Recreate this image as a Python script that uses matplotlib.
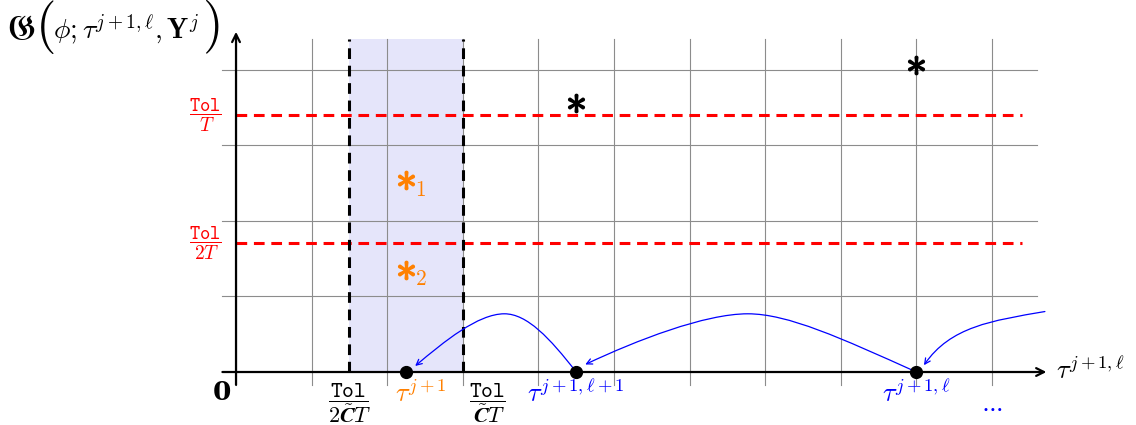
import matplotlib
matplotlib.use("Agg")
import matplotlib.pyplot as plt
from matplotlib.path import Path
from matplotlib.patches import FancyArrowPatch, Rectangle

plt.rcParams["mathtext.fontset"] = "cm"
plt.rcParams["font.family"] = "serif"
plt.rcParams["font.serif"] = ["DejaVu Serif"]

# ---- data ----
grid_x = [0, 1, 2, 3, 4, 5, 6, 7, 8, 9, 10]
grid_y = [1, 2, 3, 4]
tol_levels = [3.4, 1.7]
tol_labels = [r"$\dfrac{\mathtt{Tol}}{T}$", r"$\dfrac{\mathtt{Tol}}{2T}$"]
band = [1.5, 3.0]
band_labels = [r"$\dfrac{\mathtt{Tol}}{\mathbf{2}\tilde{\mathbfit{C}}T}$",
               r"$\dfrac{\mathtt{Tol}}{\tilde{\mathbfit{C}}T}$"]
pts_x = [2.25, 4.5, 9.0]
pts_labels = [r"$\tau^{j+1}$", r"$\tau^{j+1,\ell+1}$", r"$\tau^{j+1,\ell}$"]
pts_colors = ["#ff8000", "#0000ff", "#0000ff"]
stars_black_x = [4.5, 9.0]
stars_black_y = [3.56, 4.06]
stars_orange_x = [2.25, 2.25]
stars_orange_y = [2.54, 1.35]
stars_orange_sub = ["1", "2"]
# arcs: start, ctrl1, ctrl2, peak, ctrl3, ctrl4, end
arcs = [
    [(4.5, 0.0), (4.15, 0.45), (3.85, 0.77), (3.55, 0.77), (3.2, 0.77), (2.75, 0.4), (2.37, 0.08)],
    [(9.0, 0.0), (8.0, 0.45), (7.3, 0.77), (6.77, 0.77), (6.2, 0.77), (5.3, 0.42), (4.62, 0.1)],
]
arc_tail = [(10.7, 0.8), (10.0, 0.68), (9.45, 0.6), (9.1, 0.09)]

ORANGE = "#ff8000"
BLUE = "#0000ff"
RED = "#ff0000"

fig = plt.figure(figsize=(11.36, 4.25), dpi=100)
ax = fig.add_axes([0, 0, 1, 1])
ax.set_xlim(-3.122, 11.905)
ax.set_ylim(-0.701, 4.921)
ax.axis("off")

# band
ax.add_patch(Rectangle((band[0], 0), band[1] - band[0], 4.4, facecolor="#e5e5fa",
                       edgecolor="none", zorder=0))
# grid
for gx in grid_x:
    ax.plot([gx, gx], [-0.17, 4.4], color="#8c8c8c", lw=0.8, zorder=1)
for gy in grid_y:
    ax.plot([-0.18, 10.6], [gy, gy], color="#8c8c8c", lw=0.8, zorder=1)

# axes
ax.annotate("", xy=(10.72, 0), xytext=(-0.18, 0),
            arrowprops=dict(arrowstyle="->", lw=1.6, color="black", shrinkA=0, shrinkB=0,
                            mutation_scale=14), zorder=3)
ax.annotate("", xy=(0, 4.5), xytext=(0, -0.17),
            arrowprops=dict(arrowstyle="->", lw=1.6, color="black", shrinkA=0, shrinkB=0,
                            mutation_scale=14), zorder=3)

# tol lines
for lv, lb in zip(tol_levels, tol_labels):
    ax.plot([0, 10.4], [lv, lv], color=RED, lw=2.2, linestyle=(0, (3.5, 2.2)), zorder=2)
    ax.text(-0.41, lv, lb, color=RED, fontsize=14, ha="center", va="center")

# band dashed lines
band_label_x = [1.5, 3.33]
for bx, bl, lx in zip(band, band_labels, band_label_x):
    ax.plot([bx, bx], [0, 4.4], color="black", lw=2.2, linestyle=(0, (3.5, 2.2)), zorder=2)
    ax.text(lx, -0.12, bl, color="black", fontsize=16, ha="center", va="top")

# points
ax.plot(pts_x, [0] * len(pts_x), "o", color="black", markersize=8.5, zorder=5)
label_dx = [0.2, 0.0, 0.0]
for x, lb, c, dx in zip(pts_x, pts_labels, pts_colors, label_dx):
    ax.text(x + dx, -0.1, lb, color=c, fontsize=19, ha="center", va="top")
ax.text(10.0, -0.48, r"$\cdots$", color=BLUE, fontsize=17, ha="center", va="center")

# stars
ax.plot(stars_black_x, stars_black_y, linestyle="none", marker=r"$\ast$", markersize=13,
        color="black", markeredgewidth=1.2, zorder=5)
ax.plot(stars_orange_x, stars_orange_y, linestyle="none", marker=r"$\ast$", markersize=13,
        color=ORANGE, markeredgewidth=1.2, zorder=5)
for sx, sy, sub in zip(stars_orange_x, stars_orange_y, stars_orange_sub):
    ax.text(sx + 0.1, sy - 0.04, r"$_{%s}$" % sub, color=ORANGE, fontsize=22,
            ha="left", va="center")

# arcs
for a in arcs:
    codes = [Path.MOVETO] + [Path.CURVE4] * (len(a) - 1)
    p = FancyArrowPatch(path=Path(a, codes), arrowstyle="->", color=BLUE, lw=0.9,
                        mutation_scale=10, zorder=4)
    ax.add_patch(p)
p = FancyArrowPatch(path=Path(arc_tail, [Path.MOVETO, Path.CURVE4, Path.CURVE4, Path.CURVE4]),
                    arrowstyle="->", color=BLUE, lw=0.9, mutation_scale=10, zorder=4)
ax.add_patch(p)

# axis labels
ax.text(-0.18, -0.27, "0", fontsize=19, ha="center", va="center", fontweight="bold",
        family="DejaVu Serif")
ax.text(10.85, 0.02, r"$\tau^{j+1,\ell}$", fontsize=19, ha="left", va="center")
# y-axis label: G ( phi; tau, Y )
ylab_y = 4.53
ax.text(-3.03, ylab_y, r"$\mathfrak{G}$", fontsize=25, ha="left", va="center")
ax.text(-2.53, ylab_y + 0.03, r"$($", fontsize=38, ha="center", va="center")
ax.text(-2.42, ylab_y, r"$\phi;\tau^{j+1,\ell},\mathbf{Y}^j$", fontsize=20,
        ha="left", va="center")
ax.text(-0.34, ylab_y + 0.03, r"$)$", fontsize=38, ha="center", va="center")

fig.savefig("out.png", dpi=100)
